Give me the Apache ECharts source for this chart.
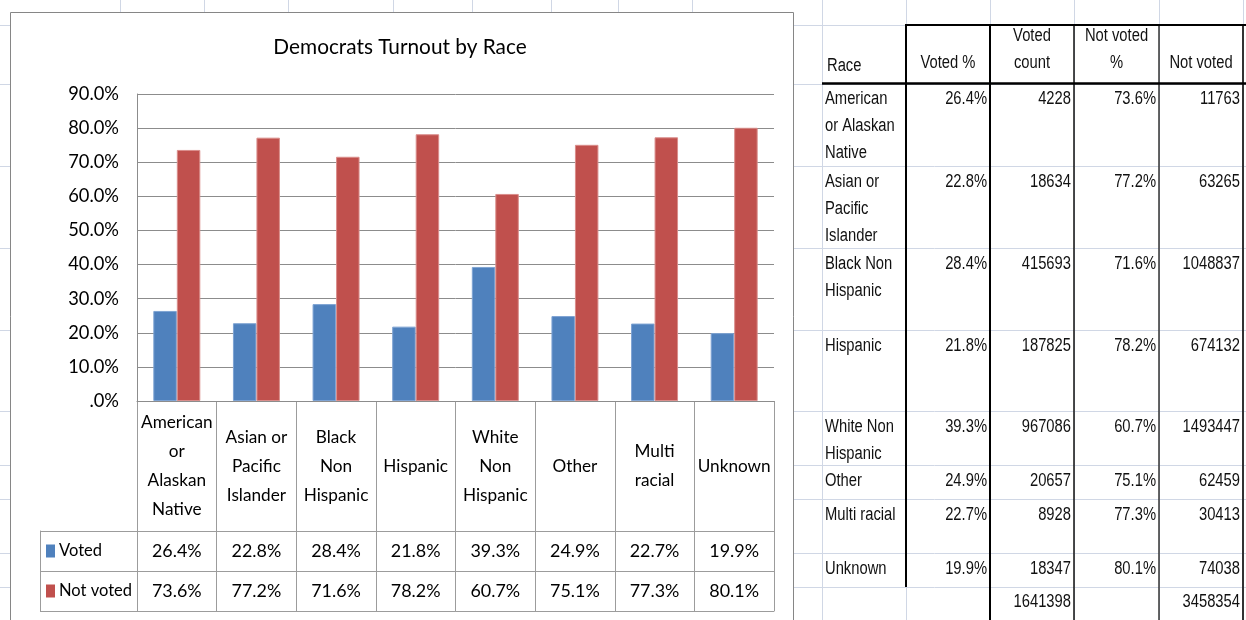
<!DOCTYPE html>
<html><head><meta charset="utf-8">
<script src="https://cdn.jsdelivr.net/npm/echarts@6/dist/echarts.min.js"></script>
<style>html,body{margin:0;padding:0;background:#fff;} #chart{width:1246px;height:620px;}</style>
</head><body><div id="chart"></div>
<script>
// ---------- data ----------
const categories = ['American or Alaskan Native','Asian or Pacific Islander','Black Non Hispanic','Hispanic','White Non Hispanic','Other','Multi racial','Unknown'];
const chartTickLabels = ['American\nor\nAlaskan\nNative','Asian or\nPacific\nIslander','Black\nNon\nHispanic','Hispanic','White\nNon\nHispanic','Other','Multi\nracial','Unknown'];
const tableRaceLabels = ['American\nor Alaskan\nNative','Asian or\nPacific\nIslander','Black Non\nHispanic','Hispanic','White Non\nHispanic','Other','Multi racial','Unknown'];
const seriesNames = ['Voted','Not voted'];
const votedPct = [0.264,0.228,0.284,0.218,0.393,0.249,0.227,0.199];
const notVotedPct = [0.736,0.772,0.716,0.782,0.607,0.751,0.773,0.801];
const votedCount = [4228,18634,415693,187825,967086,20657,8928,18347];
const notVotedCount = [11763,63265,1048837,674132,1493447,62459,30413,74038];
const tableHeaders = ['Race','Voted %','Voted\ncount','Not voted\n%','Not voted'];
const titleText = 'Democrats Turnout by Race';

// ---------- style ----------
const FONT = 'Lato, "Liberation Sans", sans-serif';
const TFONT = '"Liberation Sans", Arial, sans-serif';
const BLUE = '#4F81BD', RED = '#C0504D';
const AXIS = '#8c8c8c', CELL = '#9c9c9c', SHEET = '#D0D7E5';
const pct = v => (v === 0 ? '.0%' : (v * 100).toFixed(1) + '%');

// fit font size to the widths measured on the reference
const mctx = document.createElement('canvas').getContext('2d');
function fit(str, target, maxSize, boost) {
  mctx.font = '100px ' + FONT;
  const s = 100 * target / mctx.measureText(str).width * boost;
  return Math.min(maxSize, Math.round(s * 10) / 10);
}
const titleSize = fit(titleText, 235, 26, 1.08);
const ySize = fit('90.0%', 47, 20, 1.08);
const catSize = fit('American', 68, 20, 1.05);
const cellSize = fit('26.4%', 46, 20, 1.08);
const legSize = fit('Not voted', 73, 20, 1.0);

// ---------- spreadsheet background & right table (layout) ----------
const G = [];
const sheetCols = [120,204,288,393,472,551,618,692,822,906,990,1074,1159,1243];
const sheetRows = [25,84,166,248,330,411,465,499,553,587];
sheetCols.forEach(x => G.push({type:'line', z:-20, silent:true, shape:{x1:x+0.5,y1:0,x2:x+0.5,y2:620}, style:{stroke:SHEET,lineWidth:1}}));
sheetRows.forEach(y => G.push({type:'line', z:-20, silent:true, shape:{x1:0,y1:y+0.5,x2:1246,y2:y+0.5}, style:{stroke:SHEET,lineWidth:1}}));
G.push({type:'rect', z:-10, silent:true, shape:{x:10.5,y:12.5,width:783,height:640}, style:{fill:'#fff',stroke:'#868686',lineWidth:1}});

const colX = [822,906,990,1074,1159,1243];
const rowY = [83,166,248,330,411,465,499,553,587];
const TF = 18, TLH = 27, TC = '#111', SX = 0.82;
function txt(text, x, y, align, vAlign) {
  G.push({type:'text', z:10, silent:true, x, y, scaleX:SX,
    style:{text:String(text), x:0, y:0, fontSize:TF, fontFamily:TFONT, fill:TC, align, verticalAlign:vAlign, lineHeight:TLH}});
}
// header
txt(tableHeaders[0], colX[0]+5, 80, 'left', 'bottom');
for (let c = 1; c < 5; c++) txt(tableHeaders[c], (colX[c]+colX[c+1])/2, 77, 'center', 'bottom');
// body
tableRaceLabels.forEach((name, i) => {
  const y = rowY[i] + 3;
  txt(name, colX[0]+3, y, 'left', 'top');
  txt(pct(votedPct[i]), colX[2]-3, y, 'right', 'top');
  txt(votedCount[i], colX[3]-3, y, 'right', 'top');
  txt(pct(notVotedPct[i]), colX[4]-3, y, 'right', 'top');
  txt(notVotedCount[i], colX[5]-3, y, 'right', 'top');
});
const sum = a => a.reduce((s, v) => s + v, 0);
txt(sum(votedCount), colX[3]-3, rowY[8]+2, 'right', 'top');
txt(sum(notVotedCount), colX[5]-3, rowY[8]+2, 'right', 'top');
// table borders
function bl(x1,y1,x2,y2,w,c){ G.push({type:'line', z:5, silent:true, shape:{x1,y1,x2,y2}, style:{stroke:c,lineWidth:w}}); }
bl(906,25,906,587,2,'#000');
bl(990,25,990,620,2,'#000');
bl(1074,25,1074,620,1.5,'#111');
bl(1159,25,1159,620,1.5,'#333');
bl(1243,25,1243,620,2,'#333');
bl(905,25,1246,25,2,'#000');
bl(822,83.5,1246,83.5,2.5,'#000');

// ---------- chart ----------
const chart = echarts.init(document.getElementById('chart'));
const cellData = votedPct.map((v,i)=>[i,0,v]).concat(notVotedPct.map((v,i)=>[i,1,v]));
chart.setOption({
  animation:false,
  backgroundColor:'#fff',
  textStyle:{fontFamily:FONT},
  title:{text:titleText, left:400, top:37, padding:0, textAlign:'center',
    textStyle:{fontFamily:FONT, fontSize:titleSize, fontWeight:'normal', color:'#000'}},
  grid:[
    {left:137, top:94, width:637, height:307},
    {left:137, top:401, width:637, height:130},
    {left:137, top:531, width:637, height:80}
  ],
  xAxis:[
    {gridIndex:0, type:'category', data:categories,
      axisLine:{lineStyle:{color:AXIS}}, axisTick:{show:false}, splitLine:{show:false},
      axisLabel:{interval:0, margin:65, verticalAlign:'middle', align:'center',
        formatter:(v,i)=>chartTickLabels[i],
        lineHeight:29, fontSize:catSize, color:'#000', fontFamily:FONT}},
    {gridIndex:1, type:'category', data:categories,
      axisLine:{lineStyle:{color:CELL}}, axisTick:{show:false}, axisLabel:{show:false, interval:0},
      splitLine:{show:true, interval:0, lineStyle:{color:CELL}}},
    {gridIndex:2, type:'category', data:categories,
      axisLine:{lineStyle:{color:CELL}}, axisTick:{show:false}, axisLabel:{show:false, interval:0},
      splitLine:{show:true, interval:0, lineStyle:{color:CELL}}}
  ],
  yAxis:[
    {gridIndex:0, type:'value', min:0, max:0.9, interval:0.1,
      axisLine:{show:true, lineStyle:{color:AXIS}}, axisTick:{show:false},
      splitLine:{lineStyle:{color:AXIS}},
      axisLabel:{formatter:pct, margin:18, fontSize:ySize, color:'#000', fontFamily:FONT}},
    {gridIndex:1, type:'value', min:0, max:1, show:false},
    {gridIndex:2, type:'category', data:seriesNames, inverse:true,
      axisLine:{show:true, lineStyle:{color:CELL}},
      axisTick:{show:true, interval:0, length:97, lineStyle:{color:CELL}},
      splitLine:{show:true, interval:0, lineStyle:{color:CELL}},
      axisLabel:{align:'left', margin:91, interval:0, fontFamily:FONT,
        formatter:(v,i)=>'{k'+i+'|}{t|'+v+'}',
        rich:{
          k0:{width:9, height:13, backgroundColor:BLUE},
          k1:{width:9, height:13, backgroundColor:RED},
          t:{fontSize:legSize, color:'#000', fontFamily:FONT, padding:[0,0,0,4]}
        }}},
    {gridIndex:2, type:'category', data:seriesNames, position:'left', offset:97,
      axisLine:{show:true, lineStyle:{color:CELL}}, axisTick:{show:false}, axisLabel:{show:false}, splitLine:{show:false}}
  ],
  series:[
    {name:seriesNames[0], type:'bar', xAxisIndex:0, yAxisIndex:0, data:votedPct,
      barGap:'0%', barCategoryGap:'41%', itemStyle:{color:BLUE, borderColor:'#7EA3D3', borderWidth:1}},
    {name:seriesNames[1], type:'bar', xAxisIndex:0, yAxisIndex:0, data:notVotedPct,
      barGap:'0%', barCategoryGap:'41%', itemStyle:{color:RED, borderColor:'#DA8D8B', borderWidth:1}},
    {type:'custom', xAxisIndex:2, yAxisIndex:2, data:cellData, silent:true,
      encode:{x:0, y:1},
      renderItem:(params, api) => {
        const p = api.coord([api.value(0), api.value(1)]);
        return {type:'text', x:p[0], y:p[1],
          style:{text:pct(api.value(2)), fontSize:cellSize, fontFamily:FONT, fill:'#000', align:'center', verticalAlign:'middle'}};
      }}
  ],
  graphic:G
});
</script></body></html>
